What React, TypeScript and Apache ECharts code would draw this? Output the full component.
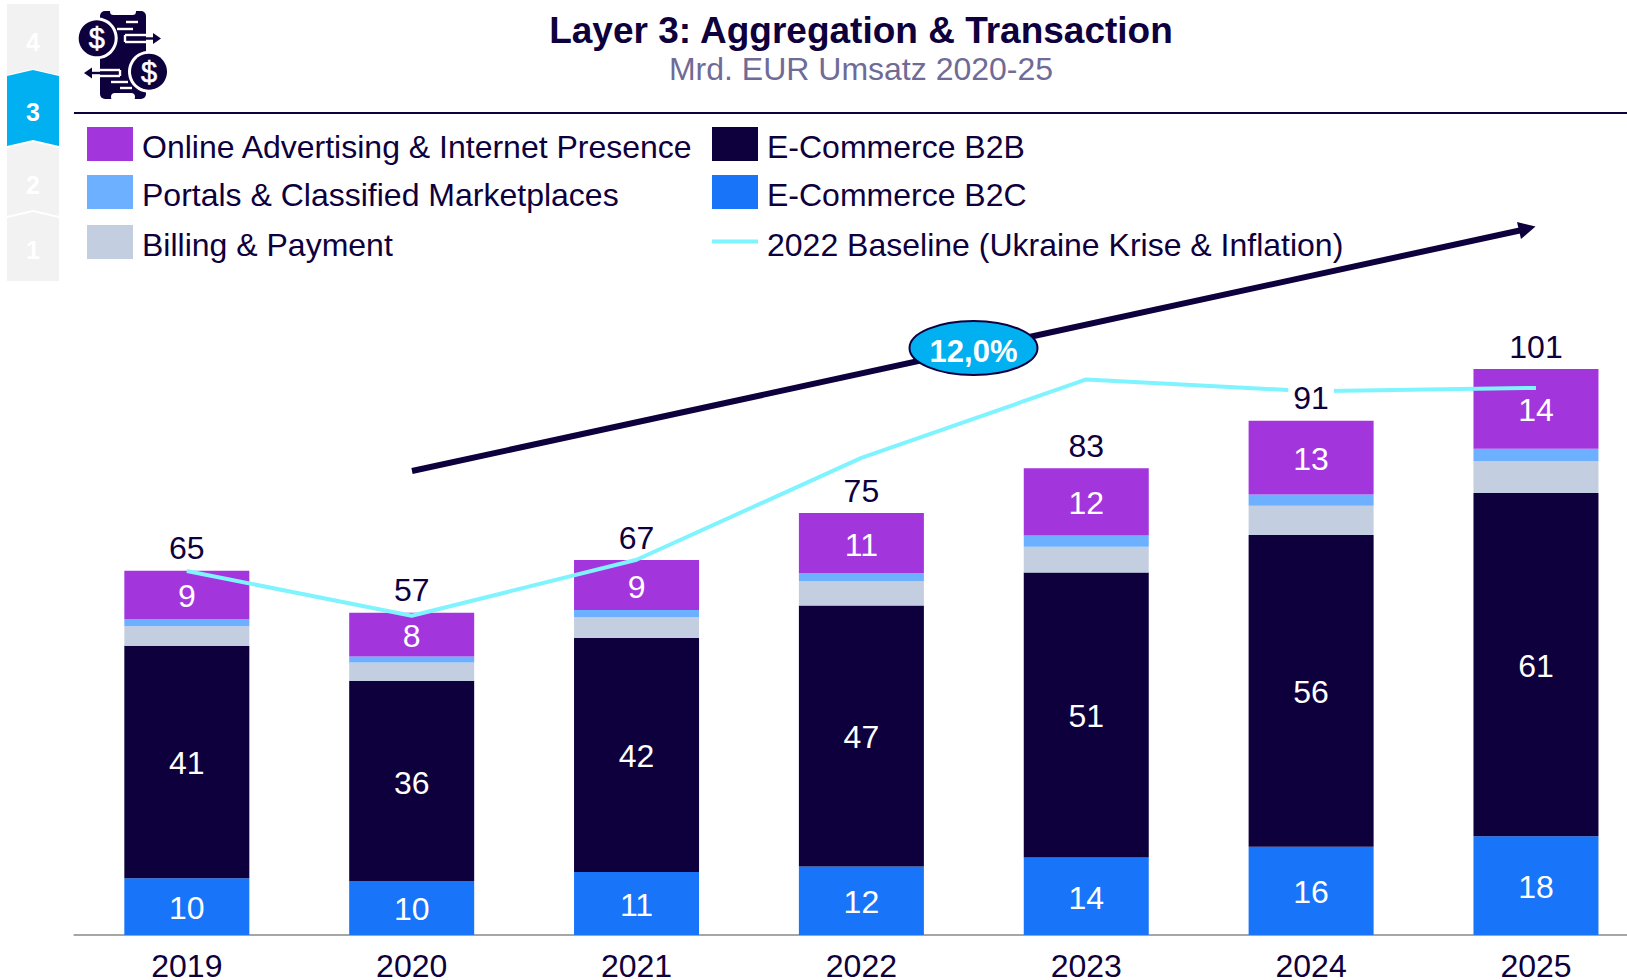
import React, { useEffect, useRef } from "react";
import * as echarts from "echarts";

const years = ["2019", "2020", "2021", "2022", "2023", "2024", "2025"];
const b2c = [10.15, 9.65, 11.25, 12.25, 13.85, 15.75, 17.65];
const b2b = [41.49, 35.7, 41.8, 46.6, 50.9, 55.7, 61.3];
const billing = [3.5, 3.3, 3.7, 4.3, 4.6, 5.2, 5.7];
const portals = [1.3, 1.1, 1.3, 1.5, 2.0, 2.0, 2.2];
const online = [8.6, 7.8, 8.9, 10.7, 12.0, 13.2, 14.2];
const totals = [65, 57, 67, 75, 83, 91, 101];
const baseline = [65, 57, 67, 85.2, 99.2, 97.1, 97.7];

const INK = "#0e003d";
const LINE = "#7ff4ff";
const FONT = "'Liberation Sans', Arial, sans-serif";

const barSeries = (name: string, data: number[], color: string, labelled: boolean) => ({
  name,
  type: "bar",
  stack: "t",
  data,
  barWidth: 125,
  itemStyle: { color },
  label: labelled
    ? {
        show: true,
        position: "inside",
        color: "#fff",
        fontSize: 32,
        fontFamily: FONT,
        offset: [0, 1.5],
        formatter: (p: any) => String(Math.round(p.value)),
      }
    : { show: false },
});

const SWATCH_ICON = "path://M0 0H46V34H0ZM0 39L0.01 39Z";
const LINE_ICON = "path://M0 0H46V4H0ZM0 10L0.01 10Z";

const legendItem = (name: string, left: number, top: number, itemHeight = 39, icon = SWATCH_ICON) => ({
  data: [name],
  left,
  top,
  padding: 0,
  icon,
  itemWidth: 46,
  itemHeight,
  itemGap: 10,
  textStyle: { color: INK, fontSize: 32, fontFamily: FONT, padding: [0, 0, 0, 4] },
});

const tab = (points: number[][], fill: string) => ({
  type: "polygon",
  shape: { points },
  style: { fill },
  silent: true,
});
const tabText = (text: string, y: number) => ({
  type: "text",
  x: 33,
  y,
  style: { text, fill: "#fff", font: `bold 25px ${FONT}`, textAlign: "center", textVerticalAlign: "middle" },
});

const icon = () => {
  const c = (cx: number, cy: number) => [
    { type: "circle", shape: { cx, cy, r: 21 }, style: { fill: "#fff" } },
    { type: "circle", shape: { cx, cy, r: 18 }, style: { fill: INK } },
    { type: "text", x: cx, y: cy, style: { text: "$", fill: "#fff", stroke: "#fff", lineWidth: 0.6, font: `29px ${FONT}`, textAlign: "center", textVerticalAlign: "middle" } },
  ];
  const w = (x1: number, y1: number, x2: number, y2: number, stroke = "#fff") => ({
    type: "line",
    shape: { x1, y1, x2, y2 },
    style: { stroke, lineWidth: 2.4 },
  });
  return [
    { type: "rect", shape: { x: 100, y: 11, width: 46, height: 88, r: 5 }, style: { fill: INK } },
    { type: "rect", shape: { x: 110, y: 8, width: 26, height: 7, r: 4 }, style: { fill: "#fff" } },
    { type: "rect", shape: { x: 111, y: 93, width: 24, height: 8, r: 4 }, style: { fill: "#fff" } },
    w(126, 22, 138, 22),
    w(117, 29, 133, 29),
    w(125, 35, 125, 42),
    w(125, 35, 146, 35),
    w(125, 42, 146, 42),
    w(146, 38.5, 156, 38.5, INK),
    { type: "polygon", shape: { points: [[153, 33], [161, 38.5], [153, 44]] }, style: { fill: INK } },
    w(120, 70, 120, 76),
    w(100, 70, 120, 70),
    w(100, 76, 120, 76),
    w(90, 73, 100, 73, INK),
    { type: "polygon", shape: { points: [[92, 67.5], [84, 73], [92, 78.5]] }, style: { fill: INK } },
    w(111, 82, 128, 82),
    w(120, 88, 132, 88),
    ...c(96.7, 38.3),
    ...c(149, 71.7),
  ];
};

export default function App() {
  const ref = useRef<HTMLDivElement>(null);
  useEffect(() => {
    document.body.style.margin = "0";
    const chart = echarts.init(ref.current!, null, { renderer: "svg" });
    chart.setOption({
      animation: false,
      backgroundColor: "#fff",
      grid: { left: 74.4, width: 1574, bottom: 45, height: 644, outerBoundsMode: "none" },
      xAxis: {
        type: "category",
        data: years,
        axisTick: { show: false },
        axisLine: { lineStyle: { color: "#a6a6a6", width: 2 } },
        axisLabel: { color: INK, fontSize: 32, lineHeight: 28, fontFamily: FONT, margin: 17 },
      },
      yAxis: { type: "value", min: 0, max: 115, show: false, splitLine: { show: false } },
      legend: [
        legendItem("Online Advertising & Internet Presence", 87, 127),
        legendItem("Portals & Classified Marketplaces", 87, 175),
        legendItem("Billing & Payment", 87, 225),
        legendItem("E-Commerce B2B", 712, 127),
        legendItem("E-Commerce B2C", 712, 175),
        legendItem("2022 Baseline (Ukraine Krise & Inflation)", 712, 228.5, 10, LINE_ICON),
      ],
      series: [
        barSeries("E-Commerce B2C", b2c, "#1874f8", true),
        barSeries("E-Commerce B2B", b2b, INK, true),
        barSeries("Billing & Payment", billing, "#c3cfe0", false),
        barSeries("Portals & Classified Marketplaces", portals, "#6cb0ff", false),
        barSeries("Online Advertising & Internet Presence", online, "#a335dd", true),
        {
          name: "2022 Baseline (Ukraine Krise & Inflation)",
          type: "line",
          data: baseline,
          symbol: "none",
          z: 5,
          itemStyle: { color: LINE },
          lineStyle: { color: LINE, width: 4 },
        },
        {
          name: "Gesamt",
          type: "line",
          data: totals.map((_, i) => ({
            value: b2c[i] + b2b[i] + billing[i] + portals[i] + online[i],
            label: i === 5 ? { backgroundColor: "#fff", padding: [0, 5, 0, 5] } : {},
          })),
          symbol: "circle",
          symbolSize: 1,
          z: 6,
          itemStyle: { color: "rgba(0,0,0,0)" },
          lineStyle: { width: 0, opacity: 0 },
          label: {
            show: true,
            position: "top",
            distance: 6,
            color: INK,
            fontSize: 32,
            fontFamily: FONT,
            formatter: (p: any) => String(totals[p.dataIndex]),
          },
        },
      ],
      graphic: [
        tab([[7, 4], [59, 4], [59, 75], [33, 69], [7, 75]], "#f2f2f2"),
        tab([[7, 76], [33, 70], [59, 76], [59, 146], [33, 140], [7, 146]], "#00b0f0"),
        tab([[7, 148], [33, 142], [59, 148], [59, 216], [33, 210], [7, 216]], "#f2f2f2"),
        tab([[7, 218], [33, 212], [59, 218], [59, 281], [7, 281]], "#f2f2f2"),
        tabText("4", 42),
        tabText("3", 112),
        tabText("2", 185),
        tabText("1", 250),
        ...icon(),
        { type: "line", shape: { x1: 74, y1: 113, x2: 1627, y2: 113 }, style: { stroke: INK, lineWidth: 2 } },
        { type: "text", x: 861, y: 30.5, style: { text: "Layer 3: Aggregation & Transaction", fill: INK, font: `bold 37px ${FONT}`, textAlign: "center", textVerticalAlign: "middle" } },
        { type: "text", x: 861, y: 68.5, style: { text: "Mrd. EUR Umsatz 2020-25", fill: "#6f6b96", font: `32px ${FONT}`, textAlign: "center", textVerticalAlign: "middle" } },
        { type: "line", z: 10, shape: { x1: 412, y1: 471, x2: 1522, y2: 230 }, style: { stroke: INK, lineWidth: 6 } },
        { type: "polygon", z: 10, shape: { points: [[1535.5, 226.5], [1517, 222], [1521, 239]] }, style: { fill: INK } },
        { type: "ellipse", z: 11, shape: { cx: 973.5, cy: 348, rx: 64, ry: 27 }, style: { fill: "#00b0f0", stroke: INK, lineWidth: 2 } },
        { type: "text", z: 12, x: 973.5, y: 351, style: { text: "12,0%", fill: "#fff", font: `bold 31px ${FONT}`, textAlign: "center", textVerticalAlign: "middle" } },
      ],
    });
    return () => chart.dispose();
  }, []);
  return <div ref={ref} style={{ width: 1627, height: 980 }} />;
}
